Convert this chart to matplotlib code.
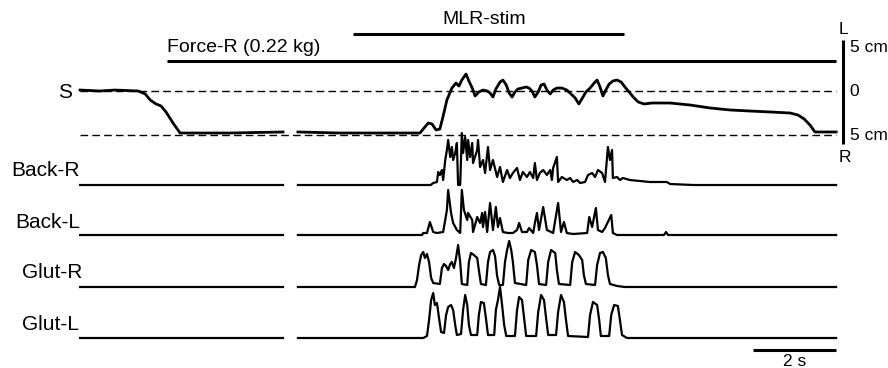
import numpy as np
import matplotlib.pyplot as plt

plt.rcParams['font.family'] = ['Liberation Sans', 'DejaVu Sans']

nan = np.nan

# recording segments (s); the break between them is the gap in every trace
SEG_LEFT = (0.0, 4.89)
SEG_RIGHT = (5.25, 18.22)

# stimulation / force periods (s)
MLR_STIM = (6.58, 13.11)
FORCE_R = (2.10, 18.22)

# S: lateral displacement (cm, + = left)
s_time = [0.00, 0.48, 0.84, 1.40, 1.57, 1.69, 1.83, 1.95, 2.07, 2.24,
          2.41, 3.61, 4.89, nan, 5.25, 6.27, 8.19, 8.29, 8.39, 8.48,
          8.58, 8.67, 8.75, 8.84, 8.96, 9.06, 9.13, 9.20, 9.30, 9.37,
          9.45, 9.52, 9.61, 9.71, 9.81, 9.88, 9.95, 10.02, 10.12, 10.19,
          10.27, 10.34, 10.41, 10.48, 10.55, 10.65, 10.75, 10.82, 10.89, 10.96,
          11.04, 11.11, 11.18, 11.25, 11.33, 11.40, 11.49, 11.61, 11.73, 11.83,
          11.93, 12.02, 12.12, 12.19, 12.29, 12.39, 12.46, 12.53, 12.60, 12.67,
          12.75, 12.84, 12.94, 13.04, 13.13, 13.23, 13.33, 13.45, 13.59, 13.78,
          14.22, 14.70, 15.18, 15.66, 16.14, 16.63, 17.11, 17.30, 17.45, 17.59,
          17.71, 18.22]
s_cm = [0.11, 0.0, 0.11, 0.0, -0.34, -1.03, -1.49, -1.72, -2.41, -3.68,
        -4.83, -4.83, -4.71, nan, -4.71, -4.83, -4.83, -4.25, -3.68, -3.79,
        -4.48, -4.37, -2.87, -1.03, 0.34, 0.92, 0.57, 1.26, 1.95, 1.15,
        0.34, -0.57, -0.11, 0.11, 0.0, -0.23, -0.69, 0.23, 1.03, 1.26,
        0.69, -0.23, -0.69, -0.11, 0.23, 0.34, 0.46, 0.34, 0.0, -0.69,
        -0.11, 0.69, 0.80, 0.11, -0.34, 0.11, 0.34, 0.34, 0.11, -0.34,
        -0.80, -1.49, -0.69, -0.11, 0.34, 0.92, 1.26, 0.46, -0.57, 0.11,
        0.80, 1.15, 1.26, 1.03, 0.46, -0.11, -0.69, -1.26, -1.49, -1.38,
        -1.38, -1.61, -1.95, -2.18, -2.30, -2.41, -2.53, -2.76, -3.22, -3.91,
        -4.71, -4.71]

# rectified EMG (arbitrary units), active part of the right segment
back_r_t = [8.45, 8.51, 8.60, 8.63, 8.67, 8.72, 8.75, 8.80, 8.84, 8.87, 8.92,
            8.96, 8.99, 9.04, 9.08, 9.11, 9.16, 9.20, 9.23, 9.28, 9.33,
            9.35, 9.40, 9.45, 9.47, 9.57, 9.59, 9.64, 9.71, 9.76, 9.83,
            9.88, 9.95, 10.05, 10.12, 10.19, 10.29, 10.36, 10.43, 10.53, 10.60,
            10.67, 10.77, 10.84, 10.92, 10.96, 11.01, 11.08, 11.16, 11.25, 11.33,
            11.37, 11.40, 11.49, 11.52, 11.61, 11.73, 11.81, 11.88, 11.98, 12.05,
            12.17, 12.24, 12.34, 12.41, 12.48, 12.58, 12.65, 12.72, 12.77, 12.82,
            12.84, 12.94, 13.01, 13.08, 13.25, 13.49, 13.73, 14.14, 14.22, 14.77]
back_r_v = [0.0, 0.2, 0.3, 1.3, 1.0, 1.5, 0.5, 2.5, 3.5, 4.5, 2.8,
            3.8, 2.5, 3.2, 4.2, 0.0, 0.0, 5.2, 3.2, 4.8, 2.5,
            4.5, 2.8, 4.2, 2.2, 3.5, 4.5, 1.8, 2.5, 1.2, 3.8,
            1.5, 2.5, 0.8, 1.8, 0.3, 1.5, 0.7, 1.2, 1.7, 0.5,
            1.3, 0.8, 1.3, 0.7, 2.2, 0.5, 1.2, 1.5, 1.0, 1.5,
            0.5, 1.7, 2.8, 0.3, 0.8, 0.5, 0.7, 0.3, 0.5, 0.2,
            0.3, 1.0, 1.2, 0.8, 1.5, 1.2, 0.3, 3.8, 2.5, 3.5,
            0.7, 0.8, 0.5, 0.7, 0.5, 0.4, 0.3, 0.3, 0.1, 0.0]

back_l_t = [8.24, 8.27, 8.36, 8.43, 8.51, 8.60, 8.75, 8.84, 8.87, 8.94,
            8.99, 9.08, 9.16, 9.20, 9.25, 9.33, 9.35, 9.45, 9.47, 9.57,
            9.64, 9.69, 9.71, 9.76, 9.81, 9.88, 9.95, 10.02, 10.07, 10.12,
            10.19, 10.31, 10.43, 10.53, 10.58, 10.65, 10.77, 10.82, 10.92, 10.96,
            11.01, 11.06, 11.16, 11.25, 11.40, 11.52, 11.59, 11.66, 11.73, 11.88,
            12.22, 12.27, 12.34, 12.43, 12.48, 12.58, 12.65, 12.80, 12.84, 12.94,
            14.07, 14.12, 14.17]
back_l_v = [0.0, 0.2, 0.2, 1.3, 0.3, 0.2, 0.3, 2.5, 4.5, 2.2,
            1.2, 0.5, 0.2, 4.5, 2.5, 1.5, 2.2, 1.5, 0.3, 1.8,
            1.2, 2.2, 0.8, 2.3, 0.3, 3.2, 0.5, 2.8, 0.8, 1.7,
            0.3, 0.2, 0.2, 0.5, 1.2, 0.3, 0.3, 0.7, 0.2, 1.2,
            2.2, 0.5, 2.8, 0.5, 0.2, 3.2, 0.3, 1.3, 0.2, 0.1,
            0.2, 1.8, 0.8, 2.7, 0.5, 0.3, 0.7, 2.0, 0.2, 0.0,
            0.0, 0.3, 0.0]

glut_r_t = [8.07, 8.12, 8.17, 8.22, 8.27, 8.31, 8.36, 8.41, 8.46, 8.51,
            8.67, 8.72, 8.77, 8.82, 8.87, 8.92, 8.96, 9.01, 9.06, 9.11,
            9.16, 9.20, 9.33, 9.37, 9.42, 9.49, 9.57, 9.61, 9.66, 9.78,
            9.83, 9.88, 9.95, 10.00, 10.05, 10.10, 10.19, 10.24, 10.29, 10.34,
            10.39, 10.43, 10.48, 10.75, 10.80, 10.87, 10.96, 11.01, 11.06, 11.23,
            11.28, 11.35, 11.45, 11.49, 11.54, 11.81, 11.86, 11.93, 12.02, 12.10,
            12.14, 12.19, 12.41, 12.46, 12.53, 12.60, 12.67, 12.72, 12.77, 12.94,
            13.13]
glut_r_v = [0.0, 0.7, 2.2, 3.2, 3.5, 2.9, 3.3, 2.5, 0.9, 0.4,
            0.3, 1.9, 2.3, 2.1, 1.7, 2.3, 2.5, 1.9, 2.9, 4.2,
            2.5, 0.3, 0.2, 2.5, 3.4, 3.2, 2.9, 1.7, 0.3, 0.2,
            2.5, 3.5, 3.7, 3.1, 1.1, 0.2, 0.2, 2.5, 3.7, 4.6,
            3.7, 2.5, 0.4, 0.2, 2.7, 3.7, 3.5, 2.2, 0.3, 0.2,
            2.5, 3.7, 3.4, 1.7, 0.3, 0.2, 2.5, 3.5, 3.2, 2.7,
            1.2, 0.3, 0.2, 2.2, 3.4, 3.5, 2.9, 1.2, 0.3, 0.1,
            0.0]

glut_l_t = [8.27, 8.36, 8.41, 8.46, 8.51, 8.55, 8.60, 8.65, 8.70, 8.77,
            8.82, 8.87, 8.94, 8.99, 9.04, 9.08, 9.18, 9.23, 9.28, 9.33,
            9.37, 9.42, 9.57, 9.61, 9.66, 9.73, 9.78, 9.83, 9.98, 10.02,
            10.07, 10.12, 10.17, 10.22, 10.27, 10.48, 10.53, 10.58, 10.65, 10.70,
            10.75, 10.99, 11.04, 11.11, 11.18, 11.23, 11.28, 11.47, 11.52, 11.59,
            11.66, 11.71, 11.76, 12.24, 12.29, 12.36, 12.46, 12.51, 12.55, 12.75,
            12.80, 12.87, 12.96, 13.01, 13.06, 13.18]
glut_l_v = [0.0, 0.2, 1.8, 3.8, 4.5, 3.3, 3.5, 2.0, 0.6, 0.5,
            2.3, 3.1, 3.3, 2.8, 1.3, 0.3, 0.4, 2.8, 4.3, 3.3,
            1.3, 0.3, 0.3, 2.3, 3.6, 3.5, 2.0, 0.3, 0.3, 2.8,
            3.8, 5.1, 3.3, 1.3, 0.2, 0.2, 2.8, 4.1, 3.8, 2.0,
            0.2, 0.2, 2.6, 4.3, 3.8, 2.0, 0.3, 0.3, 2.6, 4.3,
            3.6, 1.8, 0.2, 0.1, 2.3, 3.6, 3.3, 1.8, 0.2, 0.2,
            2.3, 3.3, 3.2, 1.8, 0.3, 0.0]

emg_names = ["Back-R", "Back-L", "Glut-R", "Glut-L"]
emg_data = [(back_r_t, back_r_v), (back_l_t, back_l_v),
            (glut_r_t, glut_r_v), (glut_l_t, glut_l_v)]

# layout (figure rows, top = 0)
S_ZERO_ROW = 91
ROWS_PER_CM = 8.7
EMG_BASE_ROWS = [185, 235, 287, 338]
ROWS_PER_AU = 10
LABEL_ROWS = [170, 222, 272, 324]
LABEL_X = [0.0, 0.0, 0.05, -0.02]


def full_trace(t, v):
    tt = [SEG_LEFT[0], SEG_LEFT[1], nan, SEG_RIGHT[0]] + list(t) + [SEG_RIGHT[1]]
    vv = [0.0, 0.0, nan, 0.0] + list(v) + [0.0]
    return np.array(tt), np.array(vv)


fig = plt.figure(figsize=(8.88, 3.68), dpi=100)
ax = fig.add_axes([0, 0, 1, 1])
ax.set_xlim(-1.93, 19.47)
ax.set_ylim(368, 0)
ax.axis('off')

def cm_row(cm):
    return S_ZERO_ROW - np.asarray(cm) * ROWS_PER_CM

# period bars
ax.plot(MLR_STIM, [34, 34], color='black', lw=2.2, solid_capstyle='butt')
ax.text(np.mean(MLR_STIM) - 0.1, 19, "MLR-stim", fontsize=14, ha='center', va='center')
ax.plot(FORCE_R, [61, 61], color='black', lw=2.2, solid_capstyle='butt')
ax.text(FORCE_R[0], 48, "Force-R (0.22 kg)", fontsize=14, ha='left', va='center')

# S trace with reference lines
for ref in (0, -5):
    ax.plot([SEG_LEFT[0], SEG_RIGHT[1]], [cm_row(ref)] * 2, color='black',
            lw=1.0, dashes=(5.5, 3))
ax.plot(s_time, cm_row(s_cm), color='black', lw=2.0)
ax.text(-0.2, 92, "S", fontsize=15, ha='right', va='center')

# vertical 5 cm scale
ax.plot([18.38, 18.38], [cm_row(5.86), cm_row(-6.1)], color='black', lw=2.2,
        solid_capstyle='butt')
ax.text(18.28, 30, "L", fontsize=12.5, ha='left', va='center')
ax.text(18.55, cm_row(5), "5 cm", fontsize=12.5, ha='left', va='center')
ax.text(18.55, cm_row(0), "0", fontsize=12.5, ha='left', va='center')
ax.text(18.55, cm_row(-5) + 1, "5 cm", fontsize=12.5, ha='left', va='center')
ax.text(18.28, 157, "R", fontsize=12.5, ha='left', va='center')

# EMG traces
for name, (t, v), base, lrow, lx in zip(emg_names, emg_data, EMG_BASE_ROWS,
                                        LABEL_ROWS, LABEL_X):
    tt, vv = full_trace(t, v)
    ax.plot(tt, base - vv * ROWS_PER_AU, color='black', lw=1.6)
    ax.text(lx, lrow, name, fontsize=15, ha='right', va='center')

# time scale bar
ax.plot([SEG_RIGHT[1] - 2, SEG_RIGHT[1]], [350, 350], color='black', lw=2.2,
        solid_capstyle='butt')
ax.text(SEG_RIGHT[1] - 1, 361, "2 s", fontsize=12.5, ha='center', va='center')

fig.savefig("out.png", dpi=100)
